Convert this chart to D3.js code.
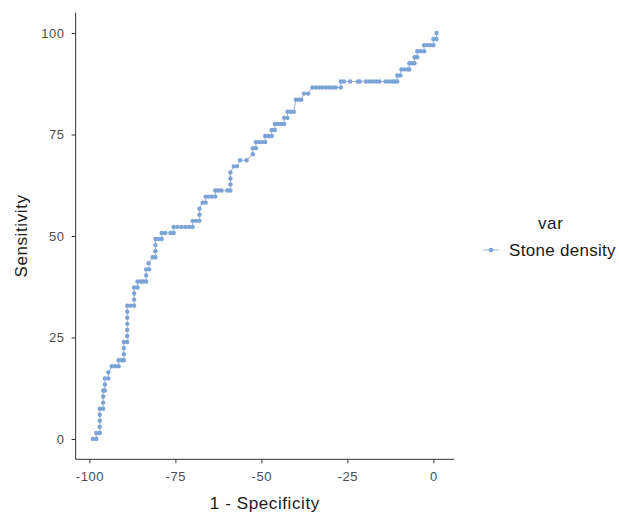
<!DOCTYPE html>
<html>
<head>
<meta charset="utf-8">
<script src="https://cdn.jsdelivr.net/npm/d3@7"></script>
<style>
  body { margin: 0; background: #fff; }
  svg { display: block; font-family: "Liberation Sans", Arial, Helvetica, sans-serif; }
  .tick text { fill: #4d4d4d; font-size: 13px; letter-spacing: 0.6px; }
  .tick line { stroke: #333; }
  .domain { stroke: #333; }
  .title { font-size: 17px; letter-spacing: 0.6px; fill: #1a1a1a; }
  .legend-label { letter-spacing: 0.3px; }
</style>
</head>
<body>
<svg id="chart" width="619" height="516"></svg>
<script>
/* ROC curve: stone density */

const SERIES_NAME = "Stone density";
const LEGEND_TITLE = "var";
const X_TICKS = [-100, -75, -50, -25, 0];
const Y_TICKS = [0, 25, 50, 75, 100];

// sensitivity (%) of each step
const sensLevels = [
  0, 1.49, 2.99, 4.48, 5.97, 7.46, 8.96, 10.45, 11.94, 13.43,
  14.93, 16.42, 17.91, 19.40, 20.90, 22.39, 23.88, 25.37, 26.87, 28.36,
  29.85, 31.34, 32.84, 34.33, 35.82, 37.31, 38.81, 40.30, 41.79, 43.28,
  44.78, 46.27, 47.76, 49.25, 50.75, 52.24, 53.73, 55.22, 56.72, 58.21,
  59.70, 61.19, 62.69, 64.18, 65.67, 67.16, 68.66, 70.15, 71.64, 73.13,
  74.63, 76.12, 77.61, 79.10, 80.60, 82.09, 83.58, 85.07, 86.57, 88.06,
  89.55, 91.04, 92.54, 94.03, 95.52, 97.01, 98.51, 100
];

// 1 - specificity of the points on each sensitivity step
const specAtLevel = [
  [-99, -98], [-98, -97], [-97], [-97], [-97], [-97, -96], [-96], [-96], [-96, -95.5], [-95.5],
  [-95.5, -94.5], [-94.5], [-93.5, -92.5, -91.5], [-91.5, -90.7, -90], [-90], [-90], [-90, -89], [-89], [-89], [-89],
  [-89], [-89], [-89, -88, -87], [-87], [-87], [-87, -86], [-86, -85, -84.3, -83.5], [-83.5], [-83.5, -82.6], [-82.8],
  [-81.6, -80.8], [-80.8], [-80.8], [-80.8, -80, -79], [-79, -78, -76.4, -75.5], [-75.5, -74.4, -73.2, -72.1, -71, -70], [-70, -69, -68], [-68], [-68], [-67.1, -66.2],
  [-66.2, -65.3, -64.4, -63.4], [-63.4, -62.5, -61.6, -59.9, -59], [-59], [-59], [-59], [-58, -57.1], [-56.2, -54.3], [-52.5], [-52.5, -51.6], [-51.6, -50.7, -49.8, -48.9],
  [-48.9, -47.9, -47], [-47, -46.1], [-46.1, -45.2, -44.3, -43.4], [-43.4, -42.4], [-42.4, -41.5, -40.6], [], [-40, -39.1, -38.4], [-37.6, -36.4],
  [-35.2, -34.2, -33.2, -32.2, -31.2, -30.2, -29.2, -28.4, -26.9],
  [-26.9, -26, -24.2, -22, -21.4, -19.6, -18.6, -17.6, -16.6, -15.7, -13.9, -12.9, -12, -11.2, -10.5],
  [-10.5, -9.6], [-9.3, -8.4, -7.5, -7], [-7, -6.2, -5.5], [-5.5, -4.7], [-4.7, -3.7, -2.7], [-2.7, -1.8, -0.9, 0], [0, 0.9], [0.9]
];

const points = specAtLevel.flatMap((xs, i) => xs.map(x => ({ x: x, y: sensLevels[i] })));

const COLOR = "#7ba3d6";

const svg = d3.select("#chart");

const x = d3.scaleLinear().domain([-100, 0]).range([89.4, 433.4]);
const y = d3.scaleLinear().domain([0, 100]).range([439, 33]);

const x0 = x(-104), x1 = x(6);
const y0 = y(-5), y1 = y(105);

// axes (plain hyphen for negatives, like the original)
const fmt = d => String(d);
const xAxis = d3.axisBottom(x).tickValues(X_TICKS).tickFormat(fmt).tickSize(4).tickPadding(8).tickSizeOuter(0);
const yAxis = d3.axisLeft(y).tickValues(Y_TICKS).tickFormat(fmt).tickSize(4).tickPadding(7).tickSizeOuter(0);

const gx = svg.append("g").attr("transform", `translate(0,${y0})`).call(xAxis);
gx.select(".domain").attr("d", `M${x0},0H${x1}`);

const gy = svg.append("g").attr("transform", `translate(${x0},0)`).call(yAxis);
gy.select(".domain").attr("d", `M0,${y0}V${y1}`);

svg.selectAll(".tick text").attr("font-family", null).attr("font-size", null);

// curve
const line = d3.line().x(d => x(d.x)).y(d => y(d.y));

svg.append("path")
  .datum(points)
  .attr("d", line)
  .attr("fill", "none")
  .attr("stroke", COLOR)
  .attr("stroke-width", 0.8);

svg.append("g")
  .selectAll("circle")
  .data(points)
  .join("circle")
  .attr("cx", d => x(d.x))
  .attr("cy", d => y(d.y))
  .attr("r", 2.2)
  .attr("fill", COLOR);

// axis titles
svg.append("text")
  .attr("class", "title")
  .attr("x", (x0 + x1) / 2)
  .attr("y", 509)
  .attr("text-anchor", "middle")
  .text("1 - Specificity");

svg.append("text")
  .attr("class", "title")
  .attr("transform", `translate(27,${(y0 + y1) / 2}) rotate(-90)`)
  .attr("text-anchor", "middle")
  .text("Sensitivity");

// legend
const legend = svg.append("g");
legend.append("text")
  .attr("class", "title")
  .attr("x", 538)
  .attr("y", 229)
  .text(LEGEND_TITLE);

legend.append("line")
  .attr("x1", 483).attr("x2", 499)
  .attr("y1", 250).attr("y2", 250)
  .attr("stroke", COLOR)
  .attr("stroke-width", 0.8);

legend.append("circle")
  .attr("cx", 491).attr("cy", 250).attr("r", 2.2)
  .attr("fill", COLOR);

legend.append("text")
  .attr("class", "title legend-label")
  .attr("x", 509)
  .attr("y", 256)
  .text(SERIES_NAME);
</script>
</body>
</html>
